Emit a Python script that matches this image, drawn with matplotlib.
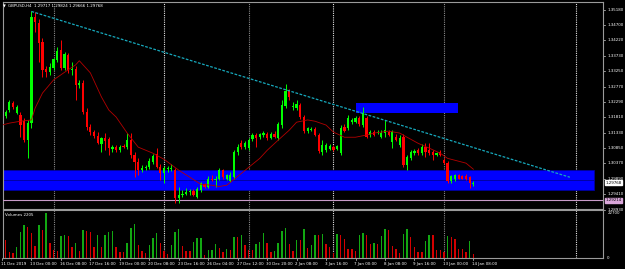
import numpy as np
import matplotlib.pyplot as plt
from matplotlib.patches import Rectangle
import matplotlib.transforms as mtransforms

# GBPUSD H4, one entry per bar (bar 0 = 11 Dec 2019 16:00)
opens = [1.3173, 1.3185, 1.3204, 1.3226, 1.3195, 1.3188, 1.3169, 1.3110, 1.3163, 1.3496,
         1.3477, 1.3418, 1.3333, 1.3323, 1.3336, 1.3361, 1.3392, 1.3336, 1.3377, 1.3330,
         1.3333, 1.3282, 1.3289, 1.3198, 1.3151, 1.3135, 1.3122, 1.3097, 1.3116, 1.3113,
         1.3082, 1.3088, 1.3078, 1.3091, 1.3088, 1.3110, 1.3063, 1.3041, 1.3016, 1.3022,
         1.3025, 1.3041, 1.3066, 1.3025, 1.3006, 1.3019, 1.3019, 1.3016, 1.2928, 1.2937,
         1.2943, 1.2947, 1.2950, 1.2931, 1.2953, 1.2972, 1.2962, 1.2990, 1.2984, 1.2990,
         1.3016, 1.2990, 1.2981, 1.2994, 1.3072, 1.3100, 1.3088, 1.3085, 1.3113, 1.3126,
         1.3119, 1.3126, 1.3129, 1.3116, 1.3129, 1.3116, 1.3157, 1.3217, 1.3264, 1.3213,
         1.3210, 1.3220, 1.3182, 1.3138, 1.3141, 1.3144, 1.3126, 1.3072, 1.3078, 1.3082,
         1.3088, 1.3082, 1.3069, 1.3151, 1.3147, 1.3166, 1.3166, 1.3179, 1.3157, 1.3179,
         1.3126, 1.3135, 1.3132, 1.3119, 1.3132, 1.3135, 1.3104, 1.3119, 1.3094, 1.3119,
         1.3031, 1.3053, 1.3069, 1.3078, 1.3069, 1.3088, 1.3078, 1.3072, 1.3063, 1.3072,
         1.3047, 1.3038, 1.2981, 1.2987, 1.3000, 1.2997, 1.2997, 1.2994, 1.29717]
highs = [1.3201, 1.3204, 1.3235, 1.3232, 1.3220, 1.3198, 1.3179, 1.3173, 1.3512, 1.3509,
         1.3487, 1.3430, 1.3342, 1.3352, 1.3367, 1.3402, 1.3424, 1.3386, 1.3383, 1.3355,
         1.3342, 1.3298, 1.3298, 1.3210, 1.3160, 1.3141, 1.3135, 1.3119, 1.3132, 1.3119,
         1.3094, 1.3094, 1.3094, 1.3097, 1.3132, 1.3132, 1.3072, 1.3053, 1.3031, 1.3031,
         1.3053, 1.3066, 1.3085, 1.3034, 1.3028, 1.3028, 1.3034, 1.3022, 1.2962, 1.2953,
         1.2959, 1.2956, 1.2956, 1.2965, 1.2978, 1.2975, 1.2997, 1.3000, 1.2997, 1.3022,
         1.3019, 1.3003, 1.3009, 1.3078, 1.3097, 1.3110, 1.3107, 1.3116, 1.3132, 1.3132,
         1.3132, 1.3138, 1.3135, 1.3135, 1.3138, 1.3166, 1.3235, 1.3286, 1.3270, 1.3229,
         1.3235, 1.3226, 1.3188, 1.3151, 1.3151, 1.3151, 1.3132, 1.3110, 1.3100, 1.3097,
         1.3094, 1.3094, 1.3157, 1.3160, 1.3188, 1.3179, 1.3185, 1.3185, 1.3213, 1.3185,
         1.3141, 1.3141, 1.3141, 1.3141, 1.3173, 1.3141, 1.3141, 1.3129, 1.3126, 1.3129,
         1.3063, 1.3078, 1.3082, 1.3085, 1.3097, 1.3100, 1.3100, 1.3078, 1.3072, 1.3078,
         1.3053, 1.3044, 1.3000, 1.3003, 1.3003, 1.3000, 1.3003, 1.2997, 1.29824]
lows = [1.3166, 1.3179, 1.3198, 1.3207, 1.3191, 1.3119, 1.3104, 1.3053, 1.3147, 1.3449,
        1.3355, 1.3308, 1.3308, 1.3314, 1.3330, 1.3355, 1.3330, 1.3330, 1.3320, 1.3314,
        1.3235, 1.3273, 1.3191, 1.3141, 1.3126, 1.3116, 1.3097, 1.3072, 1.3078, 1.3063,
        1.3072, 1.3072, 1.3072, 1.3085, 1.3082, 1.3053, 1.2994, 1.3000, 1.3009, 1.3016,
        1.3019, 1.3034, 1.3022, 1.2984, 1.2975, 1.3009, 1.3012, 1.2912, 1.2915, 1.2931,
        1.2937, 1.2940, 1.2934, 1.2928, 1.2947, 1.2959, 1.2959, 1.2981, 1.2965, 1.2984,
        1.2987, 1.2984, 1.2978, 1.2990, 1.3063, 1.3082, 1.3082, 1.3078, 1.3107, 1.3088,
        1.3113, 1.3119, 1.3110, 1.3113, 1.3116, 1.3110, 1.3147, 1.3210, 1.3235, 1.3204,
        1.3204, 1.3176, 1.3132, 1.3132, 1.3138, 1.3122, 1.3069, 1.3063, 1.3072, 1.3078,
        1.3075, 1.3078, 1.3063, 1.3135, 1.3141, 1.3160, 1.3163, 1.3154, 1.3151, 1.3116,
        1.3119, 1.3122, 1.3129, 1.3116, 1.3119, 1.3122, 1.3085, 1.3107, 1.3088, 1.3025,
        1.3016, 1.3047, 1.3063, 1.3063, 1.3063, 1.3056, 1.3063, 1.3047, 1.3060, 1.3060,
        1.3034, 1.2975, 1.2975, 1.2981, 1.2987, 1.2987, 1.2984, 1.2959, 1.29666]
closes = [1.3195, 1.3198, 1.3229, 1.3213, 1.3213, 1.3157, 1.3110, 1.3163, 1.3496, 1.3480,
          1.3414, 1.3330, 1.3323, 1.3339, 1.3364, 1.3389, 1.3336, 1.3380, 1.3330, 1.3333,
          1.3282, 1.3289, 1.3198, 1.3151, 1.3135, 1.3122, 1.3100, 1.3116, 1.3107, 1.3085,
          1.3088, 1.3078, 1.3088, 1.3088, 1.3110, 1.3063, 1.3041, 1.3016, 1.3022, 1.3025,
          1.3044, 1.3060, 1.3025, 1.3006, 1.3022, 1.3022, 1.3022, 1.2928, 1.2940, 1.2943,
          1.2947, 1.2950, 1.2937, 1.2956, 1.2975, 1.2962, 1.2990, 1.2984, 1.2990, 1.3016,
          1.2994, 1.3000, 1.3000, 1.3072, 1.3088, 1.3088, 1.3100, 1.3110, 1.3126, 1.3116,
          1.3129, 1.3132, 1.3116, 1.3129, 1.3119, 1.3160, 1.3220, 1.3264, 1.3245, 1.3217,
          1.3223, 1.3182, 1.3138, 1.3147, 1.3144, 1.3126, 1.3075, 1.3094, 1.3094, 1.3091,
          1.3078, 1.3091, 1.3147, 1.3138, 1.3179, 1.3173, 1.3179, 1.3160, 1.3195, 1.3119,
          1.3135, 1.3126, 1.3135, 1.3132, 1.3141, 1.3126, 1.3135, 1.3110, 1.3116, 1.3031,
          1.3056, 1.3072, 1.3075, 1.3069, 1.3088, 1.3072, 1.3069, 1.3063, 1.3069, 1.3063,
          1.3038, 1.2981, 1.2997, 1.3000, 1.2990, 1.2990, 1.2987, 1.2975, 1.29768]
volumes = [9100, 8750, 3150, 2630, 5600, 12780, 16280, 15400, 12600, 5950,
           16630, 14000, 22690, 7700, 4030, 3500, 10850, 11730, 11200, 5600,
           7350, 3500, 14000, 13650, 13130, 5600, 11550, 5250, 11730, 12950,
           13650, 5600, 3150, 2980, 7700, 14880, 16980, 6650, 3500, 2630,
           6650, 9980, 12250, 7350, 3500, 2100, 6650, 13130, 14350, 5780,
           3680, 3500, 7880, 9980, 10150, 1400, 3850, 4200, 7000, 4900,
           3150, 4730, 3850, 10500, 10400, 11730, 6480, 4030, 3850, 7000,
           7880, 12600, 7350, 2800, 3500, 7350, 13650, 14880, 7000, 3500,
           9100, 8750, 14350, 5080, 6650, 11730, 11500, 11900, 7000, 5250,
           2630, 11900, 11730, 9280, 4380, 4300, 3500, 11380, 12430, 11380,
           7000, 7350, 7000, 10850, 14350, 14200, 6130, 4380, 2450, 11900,
           14350, 10330, 5600, 2980, 2900, 8400, 11730, 11600, 3850, 3800,
           2980, 10850, 10700, 9630, 4730, 4380, 2980, 8580, 2205]

# red moving average, sampled along the drawn line
ma_bars = [0, 2, 5, 8, 9, 11, 14, 18, 20, 21, 24, 27, 29, 31, 34, 37, 41, 44, 48, 51,
           54, 57, 59, 61, 62, 65, 67, 70, 72, 75, 78, 80, 83, 85, 88, 90, 93, 96, 99, 101,
           105, 108, 110, 113, 116, 119, 121, 123, 126, 128]
ma_vals = [1.3157, 1.3163, 1.3169, 1.3173, 1.3210, 1.3257, 1.3298, 1.3330, 1.3345, 1.3358,
           1.3320, 1.3245, 1.3204, 1.3182, 1.3132, 1.3088, 1.3069, 1.3050, 1.3016, 1.2994,
           1.2972, 1.2969, 1.2965, 1.2969, 1.2978, 1.3006, 1.3025, 1.3053, 1.3078, 1.3110,
           1.3141, 1.3166, 1.3173, 1.3169, 1.3157, 1.3135, 1.3119, 1.3119, 1.3126, 1.3132,
           1.3138, 1.3132, 1.3119, 1.3100, 1.3085, 1.3069, 1.3053, 1.3047, 1.3038, 1.3019]

# drawn objects
trend_bars = [8.0, 154.2]
trend_vals = [1.3512, 1.2994]
support_bars = [-5, 160.7]
support_levels = [1.3016, 1.2984, 1.2953]
resist_bars = [96.1, 123.8]
resist_levels = [1.3226, 1.3195]
hline_level = 1.29214
vline_bars = [14, 44, 67, 90, 120, 156]

price_ticks = [1.35180, 1.34700, 1.34220, 1.33730, 1.33250, 1.32770, 1.32290,
               1.31810, 1.31330, 1.30850, 1.30370, 1.29890, 1.29410, 1.28930]
time_labels = ["11 Dec 2019", "13 Dec 00:00", "16 Dec 08:00", "17 Dec 16:00", "19 Dec 00:00",
               "20 Dec 08:00", "23 Dec 16:00", "26 Dec 04:00", "27 Dec 12:00", "30 Dec 20:00",
               "2 Jan 08:00", "3 Jan 16:00", "7 Jan 00:00", "8 Jan 08:00", "9 Jan 16:00",
               "13 Jan 00:00", "14 Jan 08:00"]
vol_scale_max = 22700

W, H = 625, 269
FS = 2.9


def box(x0, y0, x1, y1):
    # pixel box (top-left origin) -> figure fraction
    return [x0 / W, 1 - y1 / H, (x1 - x0) / W, (y1 - y0) / H]


fig = plt.figure(figsize=(W / 100, H / 100), dpi=100, facecolor='black')
ax = fig.add_axes(box(2.5, 1.5, 603, 208.5))
axv = fig.add_axes(box(2.5, 209.5, 603, 258), sharex=ax)
for a in (ax, axv):
    a.set_facecolor('black')
    for s in a.spines.values():
        s.set_color('#9a9a9a')
        s.set_linewidth(0.8)
    a.tick_params(left=False, bottom=False, right=False, labelleft=False, labelbottom=False)

x = np.arange(len(opens))
o, h, l, c = map(np.array, (opens, highs, lows, closes))
up = c >= o
col = np.where(up, '#00ff00', '#ff0000')

ax.vlines(x, l, h, colors=col, linewidth=0.7, zorder=4)
ax.bar(x, np.maximum(np.abs(c - o), 0.00012), bottom=np.minimum(o, c), width=0.6,
       color=col, linewidth=0, zorder=5)

ax.plot(ma_bars, ma_vals, color='#b40000', linewidth=0.6, zorder=6)
ax.plot(trend_bars, trend_vals, color='#17a9bd', linewidth=0.9, dashes=(2.2, 1.2), zorder=6)

# support zone (two stacked boxes) and resistance box
ax.add_patch(Rectangle((support_bars[0], support_levels[1]), support_bars[1] - support_bars[0],
                       support_levels[0] - support_levels[1], facecolor='#0000ff',
                       edgecolor='#0000a0', linewidth=0.6, zorder=2))
ax.add_patch(Rectangle((support_bars[0], support_levels[2]), support_bars[1] - support_bars[0],
                       support_levels[1] - support_levels[2], facecolor='#0000ff',
                       edgecolor='#0000a0', linewidth=0.6, zorder=2))
ax.add_patch(Rectangle((resist_bars[0], resist_levels[1]), resist_bars[1] - resist_bars[0],
                       resist_levels[0] - resist_levels[1], facecolor='#0000ff',
                       linewidth=0, zorder=2))

ax.axhline(hline_level, color='#c89ac8', linewidth=0.8, zorder=3)

for i, vb in enumerate(vline_bars):
    vc = '#8a8a8a' if i % 2 == 0 else '#e0e0e0'
    for a in (ax, axv):
        a.axvline(vb, color=vc, linewidth=0.8, linestyle=(0, (1, 1)), zorder=1)

ax.set_xlim(0.14, 163.2)
ax.set_ylim(1.28963, 1.35431)

# volumes, coloured up/down versus the previous bar like MT4
v = np.array(volumes)
vcol = ['#d40000'] + ['#12a812' if v[i] > v[i - 1] else '#d40000' for i in range(1, len(v))]
axv.bar(x, v, width=0.38, color=vcol, linewidth=0)
axv.set_ylim(0, vol_scale_max * 48 / 45)

# right price scale
tr = mtransforms.blended_transform_factory(ax.transAxes, ax.transData)
for p in price_ticks:
    ax.plot([1.0, 1.004], [p, p], color='#cfcfcf', linewidth=0.5, transform=tr, clip_on=False)
    ax.text(1.007, p, f"{p:.5f}", transform=tr, color='white', fontsize=FS,
            va='center', ha='left', clip_on=False)
ax.text(1.004, closes[-1], f"{closes[-1]:.5f}", transform=tr, color='black', fontsize=FS,
        va='center', ha='left', clip_on=False,
        bbox=dict(boxstyle='square,pad=0.15', facecolor='white', edgecolor='white'))
ax.text(1.004, hline_level, f"{hline_level:.5f}", transform=tr, color='black', fontsize=FS,
        va='center', ha='left', clip_on=False,
        bbox=dict(boxstyle='square,pad=0.15', facecolor='#d9a6d9', edgecolor='#d9a6d9'))

trv = mtransforms.blended_transform_factory(axv.transAxes, axv.transData)
for val in (vol_scale_max, 0):
    axv.text(1.007, val, str(val), transform=trv, color='white', fontsize=FS,
             va='center', ha='left', clip_on=False)

# time axis
trx = mtransforms.blended_transform_factory(axv.transData, axv.transAxes)
for k, lab in enumerate(time_labels):
    bx = k * 8
    axv.plot([bx, bx], [0, -0.05], color='#cfcfcf', linewidth=0.5, transform=trx, clip_on=False)
    axv.text(bx - 0.3, -0.09, lab, transform=trx, color='white', fontsize=FS,
             va='top', ha='left', clip_on=False)

# header texts
fig.text(3 / W, 1 - 6 / H, "\u25bc", color='white', fontsize=2.6, va='center', ha='left')
fig.text(8 / W, 1 - 6 / H, "GBPUSD,H4  1.29717 1.29824 1.29666 1.29768",
         color='white', fontsize=FS, va='center', ha='left')
axv.text(0.004, 0.92, f"Volumes {volumes[-1]}", transform=axv.transAxes, color='white',
         fontsize=FS, va='top', ha='left')

fig.savefig('out.png', dpi=100, facecolor='black')
